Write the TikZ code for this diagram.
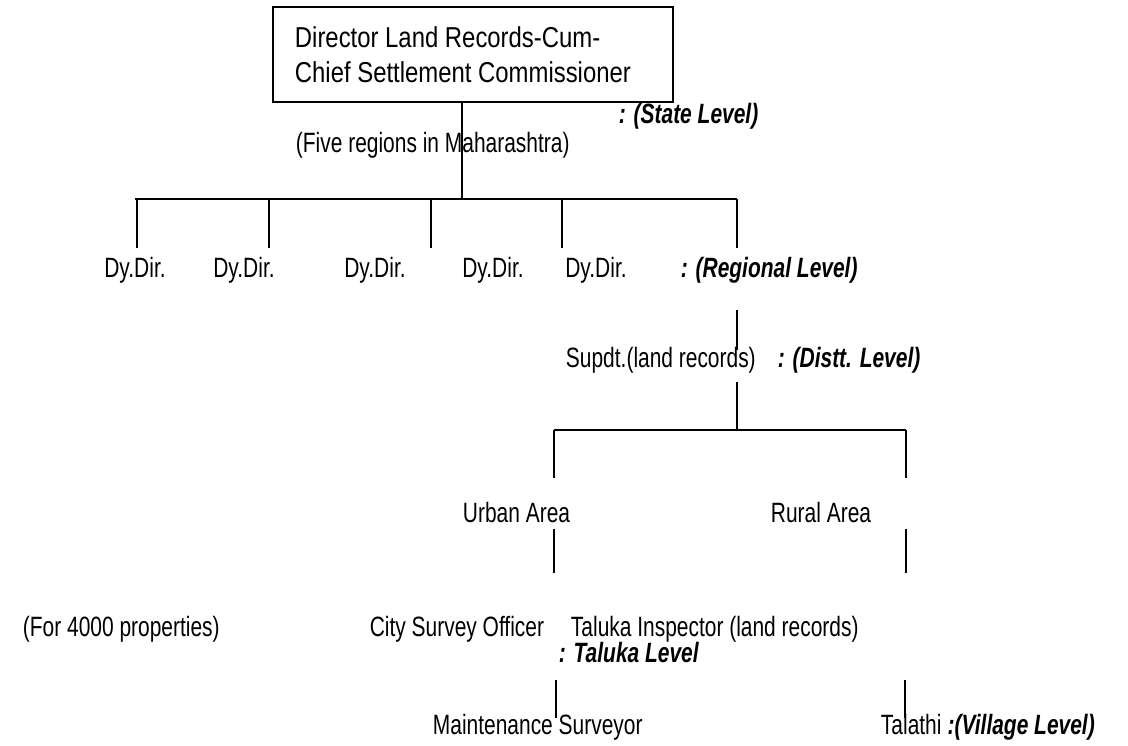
\documentclass[tikz,border=0pt]{standalone}
\usepackage{fontspec}
\setmainfont{Liberation Sans}[FakeStretch=0.75]
\newfontfamily\boxfont{Liberation Sans}[FakeStretch=0.83]

\begin{document}
\begin{tikzpicture}[x=0.469pt,y=-0.469pt,line width=0.9pt,
        lbl/.style={inner sep=0pt,font=\fontsize{13.1}{15}\selectfont},
        lvl/.style={inner sep=0pt,font=\fontsize{13.1}{15}\selectfont\bfseries\itshape}]
        \useasboundingbox (0,0) rectangle (1128,746);

        \node[draw=black,line width=1.3pt,minimum width=187.6pt,minimum height=44.6pt,text width=167pt,align=flush left,font=\boxfont\fontsize{13.5}{16.4}\selectfont] (A) at (473,54.5) {Director Land Records-Cum-\\Chief Settlement Commissioner};
        \node[lvl,anchor=base west] (SL) at (618,124) {: (State Level)};
        \node[lbl,anchor=base west] (FR) at (295,153) {(Five regions in Maharashtra)};

        \node[lbl,anchor=base] (D1) at (135,278) {Dy.Dir.};
        \node[lbl,anchor=base] (D2) at (244,278) {Dy.Dir.};
        \node[lbl,anchor=base] (D3) at (375,278) {Dy.Dir.};
        \node[lbl,anchor=base] (D4) at (493,278) {Dy.Dir.};
        \node[lbl,anchor=base] (D5) at (596,278) {Dy.Dir.};
        \node[lvl,anchor=base west] (RL) at (680,278) {: (Regional Level)};

        \node[lbl,anchor=base west] (S) at (565,368) {Supdt.(land records)};
        \node[lvl,anchor=base west] (DL) at (777,368) {: (Distt. Level)};

        \node[lbl,anchor=base west] (U) at (462,523) {Urban Area};
        \node[lbl,anchor=base west] (R) at (770,523) {Rural Area};

        \node[lbl,anchor=base west] (P) at (22,636) {(For 4000 properties)};
        \node[lbl,anchor=base east] (C) at (545,636) {City Survey Officer};
        \node[lbl,anchor=base west] (T) at (570,636) {Taluka Inspector (land records)};
        \node[lvl,anchor=base west] (TL) at (558,662) {: Taluka Level};

        \node[lbl,anchor=base west] (M) at (432,734) {Maintenance Surveyor};
        \node[lbl,anchor=base west] (V) at (880,734) {Talathi};
        \node[lvl,anchor=base west] (VL) at ([xshift=2pt]V.base east) {:(Village Level)};

        % state to regions
        \coordinate (top) at (462,199);
        \coordinate (barL) at (135,199);
        \coordinate (barR) at (737,199);
        \coordinate (r1) at (137,199);
        \coordinate (r2) at (269,199);
        \coordinate (r3) at (431,199);
        \coordinate (r4) at (562,199);
        \coordinate (e1) at (137,248);
        \coordinate (e2) at (269,248);
        \coordinate (e3) at (431,248);
        \coordinate (e4) at (562,248);
        \coordinate (e5) at (737,248);

        \path [-] (A.south -| top) edge (top);
        \path [-] (barL) edge (barR);
        \path [-] (r1) edge (e1);
        \path [-] (r2) edge (e2);
        \path [-] (r3) edge (e3);
        \path [-] (r4) edge (e4);
        \path [-] (barR) edge (e5);

        % region to district
        \coordinate (s1) at (737,310);
        \coordinate (s2) at (737,350);
        \coordinate (s3) at (737,382);
        \coordinate (s4) at (737,430);
        \path [-] (s1) edge (s2);
        \path [-] (s3) edge (s4);

        % district to areas
        \coordinate (a1) at (554,430);
        \coordinate (a2) at (906,430);
        \coordinate (a3) at (554,478);
        \coordinate (a4) at (906,478);
        \path [-] (a1) edge (a2);
        \path [-] (a1) edge (a3);
        \path [-] (a2) edge (a4);

        % areas to taluka
        \coordinate (b1) at (554,529);
        \coordinate (b2) at (554,573);
        \coordinate (b3) at (906,529);
        \coordinate (b4) at (906,573);
        \path [-] (b1) edge (b2);
        \path [-] (b3) edge (b4);

        % taluka to village
        \coordinate (c1) at (556,680);
        \coordinate (c2) at (556,718);
        \coordinate (c3) at (905,680);
        \coordinate (c4) at (905,718);
        \path [-] (c1) edge (c2);
        \path [-] (c3) edge (c4);
    \end{tikzpicture}
\end{document}
